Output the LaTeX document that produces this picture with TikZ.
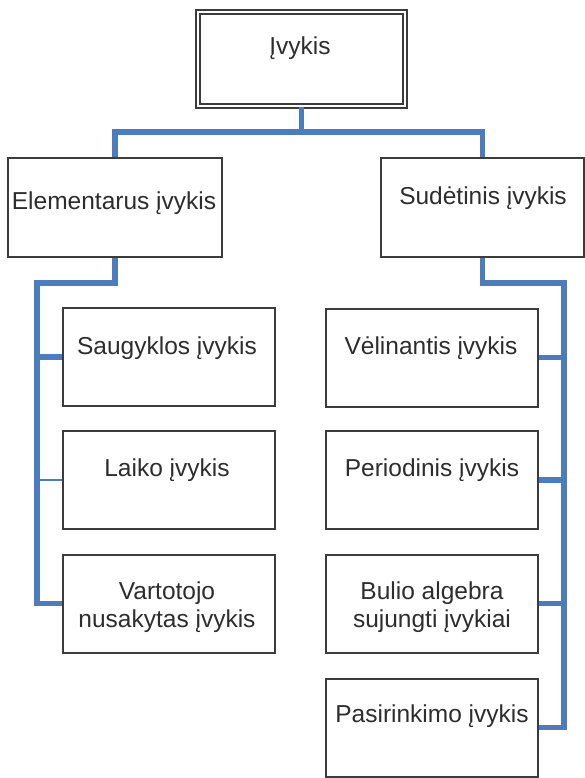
\documentclass[tikz,border=0pt]{standalone}
\usepackage{fontspec}
\setmainfont{Liberation Sans}
\begin{document}
\definecolor{busblue}{RGB}{74,124,190}
\definecolor{boxline}{RGB}{60,60,60}
\definecolor{ink}{RGB}{45,45,45}
\begin{tikzpicture}[x=1bp,y=-1bp,
  box/.style={draw=boxline,line width=2bp,fill=white,rectangle,inner sep=0pt,
              minimum width=212bp,minimum height=98bp},
  topbox/.style={draw=boxline,double=white,double distance=2.5bp,line width=1.8bp,
              rectangle,inner sep=0pt,minimum width=207bp,minimum height=94bp},
  txt/.style={text=ink,anchor=base,align=center,inner sep=0pt,
              font=\fontsize{24.5bp}{28bp}\selectfont},
  bus/.style={draw=busblue,line width=5.5bp},
  thinbus/.style={draw=busblue,line width=1.5bp}]
\useasboundingbox (0,0) rectangle (585,778);

% boxes
\node[topbox] (top) at (301.5,59) {};
\node[box,minimum width=214bp,minimum height=99bp] (el) at (115,207.5) {};
\node[box,minimum width=203bp,minimum height=99bp] (sud) at (482.5,207.5) {};

\node[box] (sau) at (169,357) {};
\node[box] (lai) at (169,480) {};
\node[box] (var) at (169,603.5) {};

\node[box] (vel) at (432,357.5) {};
\node[box] (per) at (432,480) {};
\node[box] (bul) at (432,603.5) {};
\node[box] (pas) at (432,727.5) {};

% connectors
\draw[bus] (top.south) -- ++(0,25) coordinate (j);
\draw[bus] (el.north) |- (j) -| (sud.north);

\coordinate (lb) at (37,283);
\draw[bus] (el.south) |- (lb) |- (var.west);
\draw[bus] (sau.west) -- (sau.west -| lb);
\draw[thinbus] (lai.west) -- (lai.west -| lb);

\coordinate (rb) at (564,283);
\draw[bus] (sud.south) |- (rb) |- (pas.east);
\draw[bus] (vel.east) -- (vel.east -| rb);
\draw[bus] (per.east) -- (per.east -| rb);
\draw[bus] (bul.east) -- (bul.east -| rb);

% labels
\node[txt] (t-top) at (300,55) {Įvykis};
\node[txt] (t-el) at (114,209) {Elementarus įvykis};
\node[txt] (t-sud) at (483,204) {Sudėtinis įvykis};
\node[txt] (t-sau) at (167,354) {Saugyklos įvykis};
\node[txt] (t-lai) at (167,476) {Laiko įvykis};
\node[txt] (t-var) at (167,599) {Vartotojo};
\node[txt] (t-var2) at (167,627) {nusakytas įvykis};
\node[txt] (t-vel) at (431,354) {Vėlinantis įvykis};
\node[txt] (t-per) at (432,476) {Periodinis įvykis};
\node[txt] (t-bul) at (432,599) {Bulio algebra};
\node[txt] (t-bul2) at (432,627) {sujungti įvykiai};
\node[txt] (t-pas) at (432,722) {Pasirinkimo įvykis};
\end{tikzpicture}
\end{document}
